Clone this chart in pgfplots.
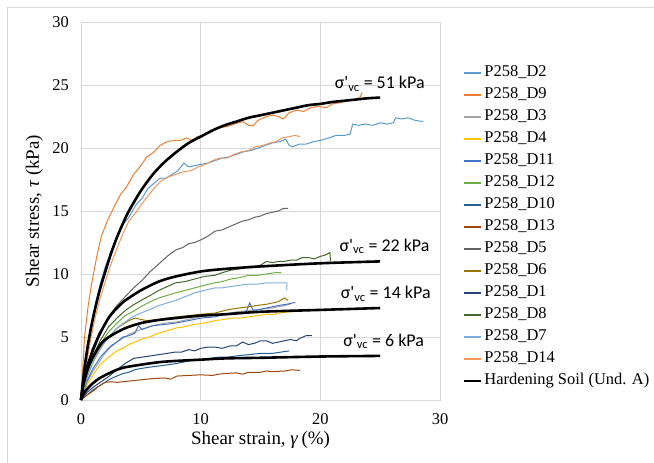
\documentclass[border=0pt]{standalone}
\usepackage{fontspec}
\setmainfont{Liberation Serif}
\newfontfamily\calibri{Carlito}
\usepackage{pgfplots}
\pgfplotsset{compat=1.18}
\definecolor{cD2}{HTML}{5B9BD5}
\definecolor{cD9}{HTML}{ED7D31}
\definecolor{cD3}{HTML}{A5A5A5}
\definecolor{cD4}{HTML}{FFC000}
\definecolor{cD11}{HTML}{4472C4}
\definecolor{cD12}{HTML}{70AD47}
\definecolor{cD10}{HTML}{255E91}
\definecolor{cD13}{HTML}{9E480E}
\definecolor{cD5}{HTML}{636363}
\definecolor{cD6}{HTML}{997300}
\definecolor{cD1}{HTML}{264478}
\definecolor{cD8}{HTML}{43682B}
\definecolor{cD7}{HTML}{7CAFDD}
\definecolor{cD14}{HTML}{F1975A}
\definecolor{gridc}{HTML}{D9D9D9}
\begin{document}
\begin{tikzpicture}[font=\fontsize{16.5}{19}\selectfont]
\begin{axis}[
  at={(0,0)}, anchor=south west,
  scale only axis, width=359bp, height=378bp,
  xmin=0, xmax=30, ymin=0, ymax=30,
  xtick={0,10,20,30}, ytick={0,5,...,30},
  grid=major, major grid style={gridc, line width=0.8bp},
  axis line style={gridc, line width=0.8bp},
  major tick length=0pt,
  /pgf/number format/assume math mode=true,
  yticklabel style={inner sep=0pt, xshift=-12bp},
  xticklabel style={inner sep=0pt, yshift=-13bp},
  xlabel={Shear strain, \textit{γ}\,(\%)},
  ylabel={Shear stress, \textit{τ} (kPa)},
  xlabel style={at={(axis description cs:0.5,-0.106)}, anchor=center, font=\fontsize{19}{22}\selectfont},
  ylabel style={at={(axis description cs:-0.13,0.5)}, anchor=center, font=\fontsize{19}{22}\selectfont},
  legend style={at={(axis description cs:1.056,0.9)}, anchor=north west, draw=none, fill=none,
    row sep=0pt, nodes={inner ysep=0pt, inner xsep=2.5bp, text height=15bp, text depth=7bp}},
  legend cell align=left,
  legend image code/.code={\draw[line width=1.7bp, #1] (0cm,0cm) -- (0.6cm,0cm);},
  every axis plot/.append style={line width=1bp},
  clip=false,
]
\addplot[cD2] coordinates {(0,0)(0.4,3)(0.8,5.6)(1.2,7.6)(1.6,9.2)(2,10.5)(2.5,11.8)(3,12.9)(3.5,13.9)(4,14.5)(4.6,15.5)(5.1,16.0)(5.6,16.8)(6.1,17.2)(6.6,17.6)(7.1,17.6)(7.6,17.9)(8.1,18.2)(8.6,18.8)(9,18.5)(9.5,18.6)(10,18.7)(10.6,18.8)(11.2,19.0)(11.8,19.2)(12.4,19.3)(13,19.5)(13.6,19.7)(14.2,19.8)(14.8,20.0)(15.4,20.2)(16,20.4)(16.6,20.5)(17.1,20.7)(17.4,20.2)(17.7,20.1)(18.2,20.3)(18.8,20.3)(19.4,20.5)(20,20.6)(20.7,20.8)(21.3,21.0)(22,21.0)(22.5,21.1)(22.7,21.9)(23.2,21.8)(23.8,21.9)(24.4,21.8)(25,22.0)(25.6,21.9)(26.1,22.0)(26.3,22.4)(26.8,22.3)(27.3,22.4)(27.9,22.2)(28.6,22.1)};
\addlegendentry{P258\_D2}
\addplot[cD9] coordinates {(0,0)(0.3,5)(0.6,7.5)(0.9,9.3)(1.3,11.3)(1.7,13.0)(2.2,14.2)(2.8,15.4)(3.3,16.3)(3.8,16.9)(4.4,17.9)(5,18.6)(5.5,19.3)(6,19.6)(6.6,20.2)(7.2,20.5)(7.8,20.6)(8.3,20.6)(8.8,20.8)(9.3,20.6)(9.7,20.9)(10.2,21.0)(10.8,21.3)(11.5,21.6)(12.2,21.7)(12.8,21.9)(13.5,22.1)(14,21.8)(14.4,21.8)(14.8,22.2)(15.5,22.5)(16,22.6)(16.5,22.5)(16.9,22.3)(17.4,22.8)(18,23.0)(18.6,22.9)(19.2,23.2)(19.8,23.3)(20.5,23.2)(21,23.5)(21.7,23.6)(22.3,23.8)(22.8,23.8)(23.3,24.0)(23.5,24.4)};
\addlegendentry{P258\_D9}
\addplot[cD3] coordinates {(0,0)(0.5,1.4)(1,2.3)(1.5,3.0)(2,3.7)(2.5,4.2)(3,4.6)(3.5,4.9)(4,5.2)(4.5,5.4)(5,5.6)(6,5.9)(7,6.1)(8,6.2)(9,6.4)(10,6.6)(11,6.7)(12,6.8)(13,7.0)(14,7.1)(15,7.2)(16,7.3)(17,7.5)(17.5,7.6)};
\addlegendentry{P258\_D3}
\addplot[cD4] coordinates {(0,0)(0.5,1.2)(1,2.0)(1.6,2.8)(2.3,3.4)(3,3.9)(3.5,4.1)(4,4.4)(4.5,4.6)(5,4.8)(5.7,5.0)(6.5,5.3)(7.2,5.5)(7.85,5.7)(8.6,5.8)(9.5,6.0)(10.3,6.1)(11.2,6.3)(12,6.4)(12.5,6.5)(13.3,6.5)(14,6.6)(14.8,6.7)(15.5,6.8)(16.1,6.8)(16.6,6.9)(17.5,7.0)};
\addlegendentry{P258\_D4}
\addplot[cD11] coordinates {(0,0)(0.5,1.5)(1,2.5)(1.7,3.5)(2.5,4.3)(3,4.6)(3.5,5.0)(4,5.1)(4.5,5.3)(4.8,5.9)(5.1,5.6)(6,5.9)(7,6.0)(7.85,6.1)(9,6.3)(10,6.5)(11.2,6.6)(12,6.8)(12.5,6.9)(13.2,6.9)(13.8,7.0)(14.1,7.7)(14.4,7.1)(15,7.2)(15.5,7.3)(16.5,7.5)(17.2,7.6)(17.9,7.75)};
\addlegendentry{P258\_D11}
\addplot[cD12] coordinates {(0,0)(0.5,2)(1,3.3)(1.6,4.4)(2.3,5.4)(3,6.1)(3.7,6.7)(4.3,7.0)(5,7.4)(5.8,7.8)(6.5,8.1)(7.2,8.3)(7.9,8.5)(8.7,8.7)(9.5,8.9)(10.3,9.1)(11.2,9.3)(11.8,9.4)(12.5,9.6)(13.2,9.7)(14,9.9)(14.8,9.9)(15.5,10.0)(16.2,10.1)(16.75,10.1)};
\addlegendentry{P258\_D12}
\addplot[cD10] coordinates {(0,0)(0.5,0.4)(1,0.8)(1.5,1.1)(2,1.4)(2.5,1.7)(3,1.9)(3.5,2.1)(4,2.2)(4.5,2.4)(5,2.5)(5.7,2.6)(6.5,2.7)(7.3,2.8)(8,2.9)(9,3.1)(10,3.2)(10.7,3.3)(11.5,3.4)(12.2,3.4)(13,3.5)(14,3.6)(15,3.7)(16,3.7)(16.7,3.8)(17.4,3.9)};
\addlegendentry{P258\_D10}
\addplot[cD13] coordinates {(0,0)(0.5,0.4)(1,0.7)(1.5,1.1)(2,1.4)(2.5,1.45)(3,1.4)(4,1.5)(5,1.6)(6,1.7)(7,1.75)(7.5,1.65)(8,1.9)(9,1.95)(10,2.0)(11,1.95)(11.5,2.05)(12,2.1)(13,2.15)(13.5,2.05)(14,2.2)(15,2.2)(15.5,2.3)(16,2.25)(17,2.3)(17.6,2.4)(18.3,2.35)};
\addlegendentry{P258\_D13}
\addplot[cD5] coordinates {(0,0)(0.4,2)(0.9,4)(1.5,5.3)(2.3,6.6)(3,7.5)(3.7,8.2)(4.4,8.9)(5.1,9.5)(5.8,10.2)(6.5,10.8)(7.2,11.4)(7.9,11.9)(8.5,12.1)(9,12.4)(9.5,12.5)(10,12.7)(10.6,13.0)(11.2,13.4)(11.8,13.5)(12.5,13.8)(13,14.0)(13.5,14.2)(14,14.3)(14.5,14.5)(15,14.6)(15.5,14.8)(16,14.9)(16.5,15.0)(16.9,15.2)(17.3,15.2)};
\addlegendentry{P258\_D5}
\addplot[cD6] coordinates {(0,0)(0.5,1.8)(1,3)(1.7,4.3)(2.5,5.2)(3,5.7)(3.5,6.0)(4,6.3)(4.5,6.5)(5,6.4)(5.5,6.3)(6.5,6.4)(7.2,6.5)(8,6.6)(9,6.7)(10,6.8)(11.2,6.9)(12,7.1)(12.5,7.2)(13.2,7.3)(14,7.4)(14.7,7.5)(15.5,7.6)(16.5,7.8)(17,8.1)(17.3,7.9)};
\addlegendentry{P258\_D6}
\addplot[cD1] coordinates {(0,0)(0.5,0.6)(1,1.0)(1.6,1.4)(2.3,1.85)(3,2.4)(3.7,2.9)(4.4,3.3)(5.1,3.4)(5.8,3.5)(6.5,3.6)(7.2,3.7)(7.85,3.8)(8.4,3.8)(9,4.0)(9.5,3.9)(10,4.1)(10.6,4.2)(11.2,4.2)(11.8,4.1)(12.5,4.3)(13,4.3)(13.5,4.6)(14,4.4)(14.5,4.5)(15,4.7)(15.5,4.7)(16,4.5)(16.5,4.6)(17,4.7)(17.5,4.8)(18,4.7)(18.3,4.9)(18.8,5.1)(19.3,5.1)};
\addlegendentry{P258\_D1}
\addplot[cD8] coordinates {(0,0)(0.5,2.2)(1,3.5)(1.6,4.7)(2.3,5.8)(3,6.5)(3.7,7.1)(4.3,7.5)(5,7.9)(5.8,8.3)(6.5,8.7)(7.2,9.0)(7.9,9.3)(8.7,9.4)(9.5,9.6)(10.3,9.8)(11.2,9.9)(11.8,10.1)(12.5,10.3)(13.2,10.4)(14,10.6)(14.5,10.6)(15,10.7)(15.5,11.0)(16,10.9)(16.5,11.0)(17,11.0)(17.5,11.1)(18,11.1)(18.5,11.3)(19,11.3)(19.5,11.2)(20,11.4)(20.4,11.5)(20.8,11.7)(20.85,11.0)};
\addlegendentry{P258\_D8}
\addplot[cD7] coordinates {(0,0)(0.5,1.8)(1,3)(1.6,4)(2.3,5.0)(3,5.7)(3.7,6.2)(4.3,6.6)(5,6.9)(5.8,7.2)(6.5,7.5)(7.2,7.7)(7.9,7.9)(8.7,8.2)(9.5,8.5)(10.3,8.7)(11.2,8.9)(11.8,8.9)(12.5,9.0)(13.2,9.1)(14,9.2)(14.8,9.2)(15.5,9.3)(16.3,9.3)(17.2,9.3)(17.2,8.7)};
\addlegendentry{P258\_D7}
\addplot[cD14] coordinates {(0,0)(0.4,2.5)(0.8,4.8)(1.2,6.6)(1.6,8.1)(2,9.3)(2.5,10.8)(3,12.0)(3.5,13.2)(4,14.2)(4.6,14.9)(5.1,15.6)(5.6,16.2)(6.2,16.9)(6.7,17.4)(7.3,17.7)(7.9,17.9)(8.5,18.1)(9.2,18.2)(9.8,18.5)(10.4,18.7)(11,19.0)(11.6,19.2)(12.2,19.2)(12.8,19.5)(13.4,19.7)(14,19.8)(14.6,20.1)(15.2,20.2)(15.8,20.4)(16.3,20.5)(16.8,20.8)(17.4,20.9)(17.9,21.0)(18.3,20.9)};
\addlegendentry{P258\_D14}
\addplot[black, line width=2.6bp, smooth] coordinates {(0,0)(0.25,2.2)(0.5,3.9)(0.75,5.3)(1,6.5)(1.5,8.5)(2,10.1)(2.5,11.6)(3,12.9)(3.5,14.0)(4,15.0)(5,16.6)(6,17.9)(7,18.9)(8,19.7)(9,20.4)(10,20.9)(11,21.4)(12,21.8)(13,22.1)(14,22.4)(15,22.6)(16,22.8)(17,23.0)(18,23.2)(19,23.4)(20,23.5)(21,23.65)(22,23.75)(23,23.85)(24,23.95)(25,24.0)};
\addlegendentry{Hardening Soil (Und. A)}
\addplot[black, line width=2.6bp, smooth, forget plot] coordinates {(0,0)(0.25,1.6)(0.5,2.6)(0.9,3.7)(1.5,5.1)(2.3,6.5)(3,7.3)(3.7,7.9)(5,8.7)(6.5,9.4)(7.9,9.8)(10,10.2)(12,10.4)(15,10.6)(20,10.85)(25,11.0)};
\addplot[black, line width=2.6bp, smooth, forget plot] coordinates {(0,0)(0.15,1.0)(0.3,1.6)(0.6,2.6)(1,3.4)(1.7,4.5)(2.5,5.1)(3.7,5.7)(5,6.1)(6.5,6.35)(7.9,6.5)(10,6.7)(12,6.8)(15,7.0)(20,7.15)(25,7.3)};
\addplot[black, line width=2.6bp, smooth, forget plot] coordinates {(0,0)(0.2,0.45)(0.4,0.75)(0.9,1.25)(1.5,1.7)(2.3,2.1)(3,2.4)(3.7,2.6)(5,2.8)(6.5,3.0)(7.9,3.1)(10,3.2)(12,3.3)(15,3.35)(20,3.45)(25,3.5)};
\node[anchor=west, inner sep=0pt, font=\calibri\fontsize{18}{21}\selectfont] at (axis cs:21.2,25.1) {σ'\textsubscript{vc} = 51 kPa};
\node[anchor=west, inner sep=0pt, font=\calibri\fontsize{18}{21}\selectfont] at (axis cs:21.6,12.2) {σ'\textsubscript{vc} = 22 kPa};
\node[anchor=west, inner sep=0pt, font=\calibri\fontsize{18}{21}\selectfont] at (axis cs:21.7,8.45) {σ'\textsubscript{vc} = 14 kPa};
\node[anchor=west, inner sep=0pt, font=\calibri\fontsize{18}{21}\selectfont] at (axis cs:21.9,4.65) {σ'\textsubscript{vc} = 6 kPa};
\end{axis}
\draw[gridc, line width=0.8bp] (-74bp,-70bp) -- (-74bp,393bp) -- (580bp,393bp);
\pgfresetboundingbox
\useasboundingbox (-81bp,-63bp) rectangle (573bp,400bp);
\end{tikzpicture}
\end{document}
